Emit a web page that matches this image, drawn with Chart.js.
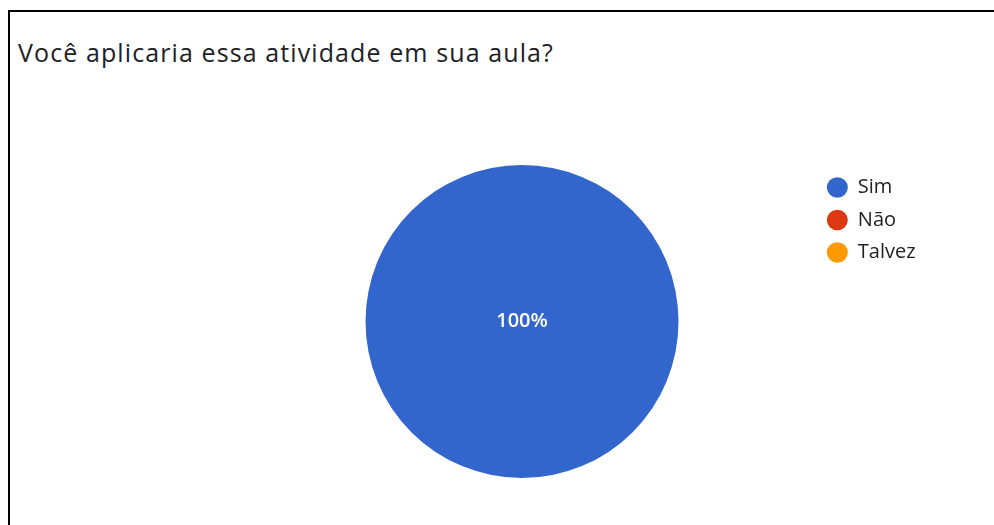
<!DOCTYPE html>
<html>
<head>
<meta charset="utf-8">
<script src="https://cdn.jsdelivr.net/npm/chart.js@4/dist/chart.umd.min.js"></script>
<style>
  html, body { margin: 0; padding: 0; background: #fff; width: 994px; height: 525px; overflow: hidden; }
  #frame { position: absolute; left: 8px; top: 10px; width: 1200px; height: 800px;
           border-top: 2px solid #000; border-left: 2px solid #000; }
  #title { position: absolute; left: 18px; top: 40px; font-family: "Open Sans", sans-serif;
           font-size: 25px; line-height: 25px; letter-spacing: 1.1px; color: #202124; white-space: nowrap; }
  #wrap { position: absolute; left: 0; top: 0; width: 994px; height: 525px; }
</style>
</head>
<body>
<div id="frame"></div>
<div id="title">Você aplicaria essa atividade em sua aula?</div>
<div id="wrap"><canvas id="c" width="994" height="525"></canvas></div>
<script>
const categories = ['Sim', 'Não', 'Talvez'];
const values = [100, 0, 0];
const colors = ['#3366CC', '#DC3912', '#FF9900'];

const sliceLabels = {
  id: 'sliceLabels',
  afterDatasetsDraw(chart) {
    const meta = chart.getDatasetMeta(0);
    const data = chart.data.datasets[0].data;
    const total = data.reduce((a, b) => a + b, 0);
    const ctx = chart.ctx;
    ctx.save();
    ctx.fillStyle = '#ffffff';
    ctx.font = '600 20px "Open Sans"';
    ctx.textAlign = 'center';
    ctx.textBaseline = 'middle';
    meta.data.forEach((arc, i) => {
      const v = data[i];
      if (!v) return;
      const pct = Math.round(v / total * 100) + '%';
      let p;
      if (v === total) p = { x: arc.x, y: arc.y };
      else p = arc.tooltipPosition();
      ctx.fillText(pct, p.x, p.y);
    });
    ctx.restore();
  }
};

new Chart(document.getElementById('c'), {
  type: 'pie',
  data: {
    labels: categories,
    datasets: [{ data: values, backgroundColor: colors, borderWidth: 0 }]
  },
  options: {
    responsive: false,
    animation: false,
    layout: { padding: { top: 165, bottom: 47, left: 229.7, right: 68.4 } },
    plugins: {
      tooltip: { enabled: false },
      title: { display: false },
      legend: {
        position: 'right',
        align: 'start',
        labels: {
          usePointStyle: true,
          pointStyle: 'circle',
          pointStyleWidth: 21,
          boxHeight: 14.5,
          padding: 12.5,
          color: '#222222',
          font: { family: '"Open Sans"', size: 20 }
        }
      }
    }
  },
  plugins: [sliceLabels]
});
</script>
</body>
</html>
